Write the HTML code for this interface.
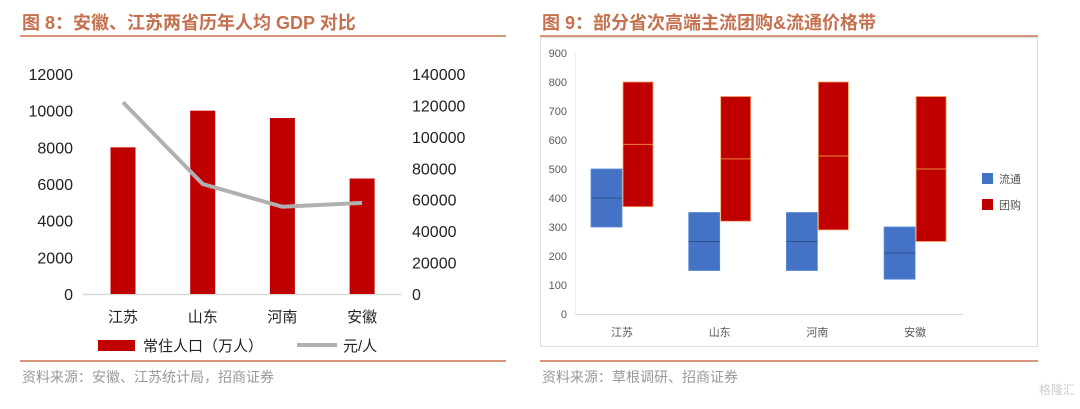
<!DOCTYPE html>
<html><head><meta charset="utf-8"><style>
body{margin:0;width:1080px;height:404px;background:#fff;overflow:hidden;font-family:"Liberation Sans","Noto Sans CJK SC",sans-serif}
svg text{font-family:"Liberation Sans","Noto Sans CJK SC",sans-serif}
</style></head><body>
<svg width="1080" height="404">
<g>
<text x="22" y="29" font-size="18" font-weight="bold" fill="#c5714f">图 8：安徽、江苏两省历年人均 GDP 对比</text>
<line x1="20" y1="36" x2="506" y2="36" stroke="#d9957a" stroke-width="2"/>
<line x1="20" y1="361" x2="506" y2="361" stroke="#d9957a" stroke-width="2"/>
<text x="22" y="382" font-size="14" fill="#999">资料来源：安徽、江苏统计局，招商证券</text>
<g id="L"></g>
<rect x="98" y="340" width="37" height="11" fill="#c00000"/>
<text x="143" y="351" font-size="15" fill="#222">常住人口（万人）</text>
<line x1="297" y1="345" x2="337" y2="345" stroke="#b0b0b0" stroke-width="4"/>
<text x="343" y="351" font-size="15" fill="#222">元/人</text>
</g>
<g>
<text x="542" y="29" font-size="18" font-weight="bold" fill="#c5714f">图 9：部分省次高端主流团购&amp;流通价格带</text>
<line x1="540" y1="36" x2="1038" y2="36" stroke="#d9957a" stroke-width="2"/>
<rect x="540.5" y="37.5" width="497" height="309" fill="none" stroke="#ddd"/>
<line x1="540" y1="361" x2="1038" y2="361" stroke="#d9957a" stroke-width="2"/>
<text x="542" y="382" font-size="14" fill="#999">资料来源：草根调研、招商证券</text>
<g id="R"></g>
<rect x="982" y="173" width="11" height="11" fill="#4472c4"/>
<text x="999" y="183" font-size="11" fill="#555">流通</text>
<rect x="982" y="199" width="11" height="11" fill="#c00000"/>
<text x="999" y="209" font-size="11" fill="#555">团购</text>
<text x="1075" y="394" font-size="12" fill="#ccc" text-anchor="end">格隆汇</text>
</g>
</svg>
<script>
const NS="http://www.w3.org/2000/svg";
function mk(p,t,a){const e=document.createElementNS(NS,t);for(const k in a)e.setAttribute(k,a[k]);p.appendChild(e);return e;}
// Left chart data
const leftCats=["江苏","山东","河南","安徽"];
const population=[8000,10000,9600,6300];
const gdpPerCapita=[122000,70000,55500,58000];
const leftTicks=[0,2000,4000,6000,8000,10000,12000];
const rightTicks=[0,20000,40000,60000,80000,100000,120000,140000];
// Right chart data
const rCats=["江苏","山东","河南","安徽"];
const circLow=[300,150,150,120],circMid=[400,250,250,210],circHigh=[500,350,350,300];
const grpLow=[370,320,290,250],grpMid=[585,535,545,500],grpHigh=[800,750,800,750];
const rTicks=[0,100,200,300,400,500,600,700,800,900];

(function(){
const g=document.getElementById("L");
const y1=v=>294-v/12000*220, y2=v=>294-v/140000*220;
const x=i=>123+i*79.7;
leftTicks.forEach(t=>{const e=mk(g,"text",{x:73,y:y1(t)+6,"font-size":16,"text-anchor":"end",fill:"#222"});e.textContent=t;

});
rightTicks.forEach(t=>{const e=mk(g,"text",{x:412,y:y2(t)+6,"font-size":16,fill:"#222"});e.textContent=t;

});
const ax=mk(g,"line",{x1:83,y1:294.5,x2:402,y2:294.5,stroke:"#d9d9d9","stroke-width":1.5});


population.forEach((v,i)=>{const r=mk(g,"rect",{x:x(i)-12.5,y:y1(v),width:25,height:294-y1(v),fill:"#c00000"});


const t=mk(g,"text",{x:x(i),y:322,"font-size":15,"text-anchor":"middle",fill:"#222"});t.textContent=leftCats[i];

});
const pl=mk(g,"polyline",{points:gdpPerCapita.map((v,i)=>x(i)+","+y2(v)).join(" "),fill:"none",stroke:"#b0b0b0","stroke-width":4});


})();

(function(){
const g=document.getElementById("R");
const y=v=>314-v/900*261, x=i=>622+i*97.7;
rTicks.forEach(t=>{const e=mk(g,"text",{x:567,y:y(t)+4,"font-size":11,"text-anchor":"end",fill:"#595959"});e.textContent=t;

});
const ax=mk(g,"line",{x1:575,y1:314.5,x2:963,y2:314.5,stroke:"#d9d9d9"});


const ay=mk(g,"line",{x1:575.5,y1:53,x2:575.5,y2:314,stroke:"#eee"});


rCats.forEach((c,i)=>{
 const b=mk(g,"rect",{x:x(i)-31,y:y(circHigh[i]),width:31,height:y(circLow[i])-y(circHigh[i]),fill:"#4472c4",stroke:"#5b8ad8","stroke-width":0.8});
 
 
 const bm=mk(g,"line",{x1:x(i)-31,x2:x(i),y1:y(circMid[i]),y2:y(circMid[i]),stroke:"#2f528f"});
 
 
 const r=mk(g,"rect",{x:x(i)+1,y:y(grpHigh[i]),width:30,height:y(grpLow[i])-y(grpHigh[i]),fill:"#c00000",stroke:"#f4a460","stroke-width":0.8});
 
 
 const rm=mk(g,"line",{x1:x(i)+1,x2:x(i)+31,y1:y(grpMid[i]),y2:y(grpMid[i]),stroke:"#e8873c"});
 
 
 const t=mk(g,"text",{x:x(i),y:336,"font-size":11,"text-anchor":"middle",fill:"#595959"});t.textContent=c;
 
 
});
})();
</script>
</body></html>
